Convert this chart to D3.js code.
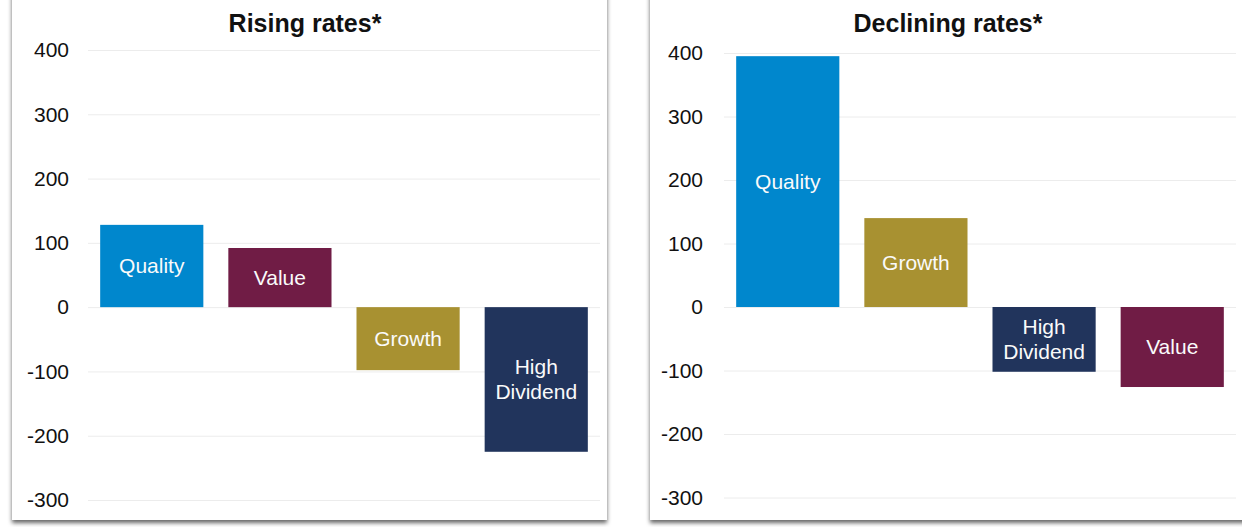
<!DOCTYPE html>
<html>
<head>
<meta charset="utf-8">
<script src="https://cdn.jsdelivr.net/npm/d3@7"></script>
<style>
  html, body { margin: 0; padding: 0; background: #fff; }
  svg { display: block; font-family: "Liberation Sans", Arial, Helvetica, sans-serif; }
</style>
</head>
<body>
<svg id="chart" width="1242" height="527"></svg>
<script>
// chart data
var risingTitle = "Rising rates*";
var risingCats = ["Quality", "Value", "Growth", "High Dividend"];
var risingVals = [128, 92, -98, -225];

var decliningTitle = "Declining rates*";
var decliningCats = ["Quality", "Growth", "High Dividend", "Value"];
var decliningVals = [395, 140, -102, -126];

var yTicks = [400, 300, 200, 100, 0, -100, -200, -300];

var colors = {
  "Quality": "#0087cd",
  "Value": "#701c45",
  "Growth": "#a89131",
  "High Dividend": "#21345c"
};

var svg = d3.select("#chart");

// soft drop shadow for the two cards
var defs = svg.append("defs");
var f = defs.append("filter").attr("id", "shadow")
  .attr("x", "-5%").attr("y", "-5%").attr("width", "110%").attr("height", "115%");
f.append("feDropShadow")
  .attr("dx", 0).attr("dy", 3)
  .attr("stdDeviation", 2.2)
  .attr("flood-color", "#000")
  .attr("flood-opacity", 0.6);

var drawPanel = function(opts) {
  var g = svg.append("g");

  g.append("rect")
    .attr("x", opts.left).attr("y", -10)
    .attr("width", opts.right - opts.left)
    .attr("height", 530)
    .attr("fill", "#fff")
    .attr("filter", "url(#shadow)");

  var x = d3.scaleBand()
    .domain(opts.cats)
    .range([opts.x0, opts.x1])
    .paddingInner(0.195)
    .paddingOuter(0.095);

  var y = d3.scaleLinear()
    .domain([-300, 400])
    .range([opts.yBottom, opts.yTop]);

  // gridlines + tick labels (plain hyphen for negatives)
  var axis = d3.axisLeft(y)
    .tickValues(yTicks)
    .tickSize(-(opts.x1 - opts.x0))
    .tickPadding(opts.pad)
    .tickFormat(function(d) { return String(d); });

  var ax = g.append("g")
    .attr("transform", "translate(" + opts.x0 + ",0)")
    .call(axis);
  ax.select(".domain").remove();
  ax.selectAll(".tick line").attr("stroke", "#ececec").attr("stroke-width", 1);
  ax.selectAll(".tick text")
    .attr("fill", "#111")
    .attr("font-size", 21)
    .attr("font-family", "\"Liberation Sans\", Arial, sans-serif");

  var data = opts.cats.map(function(c, i) { return { cat: c, val: opts.vals[i] }; });

  g.selectAll("rect.bar")
    .data(data)
    .enter().append("rect")
    .attr("class", "bar")
    .attr("x", function(d) { return x(d.cat); })
    .attr("width", x.bandwidth())
    .attr("y", function(d) { return y(Math.max(0, d.val)); })
    .attr("height", function(d) { return Math.abs(y(d.val) - y(0)); })
    .attr("fill", function(d) { return colors[d.cat]; });

  // labels in the middle of each bar
  var labels = g.selectAll("text.lbl")
    .data(data)
    .enter().append("text")
    .attr("class", "lbl")
    .attr("text-anchor", "middle")
    .attr("fill", "#fafafa")
    .attr("font-size", 21)
    .attr("x", function(d) { return x(d.cat) + x.bandwidth() / 2; })
    .attr("y", function(d) { return (y(d.val) + y(0)) / 2; });

  labels.each(function(d) {
    var words = d.cat === "High Dividend" ? ["High", "Dividend"] : [d.cat];
    var t = d3.select(this);
    var lh = 25;
    var start = -(words.length - 1) * lh / 2;
    words.forEach(function(w, i) {
      t.append("tspan")
        .attr("x", x(d.cat) + x.bandwidth() / 2)
        .attr("dy", i === 0 ? start + 7 : lh)
        .text(w);
    });
  });

  g.append("text")
    .attr("x", opts.titleX)
    .attr("y", 32)
    .attr("text-anchor", "middle")
    .attr("font-weight", "bold")
    .attr("font-size", 25)
    .attr("fill", "#111")
    .text(opts.title);
};

drawPanel({
  title: risingTitle, cats: risingCats, vals: risingVals,
  left: 12, right: 607, titleX: 305,
  x0: 88, x1: 600,
  yTop: 50, yBottom: 500,
  pad: 19
});

drawPanel({
  title: decliningTitle, cats: decliningCats, vals: decliningVals,
  left: 650, right: 1250, titleX: 948,
  x0: 724, x1: 1236,
  yTop: 53, yBottom: 497.5,
  pad: 21
});
</script>
</body>
</html>
